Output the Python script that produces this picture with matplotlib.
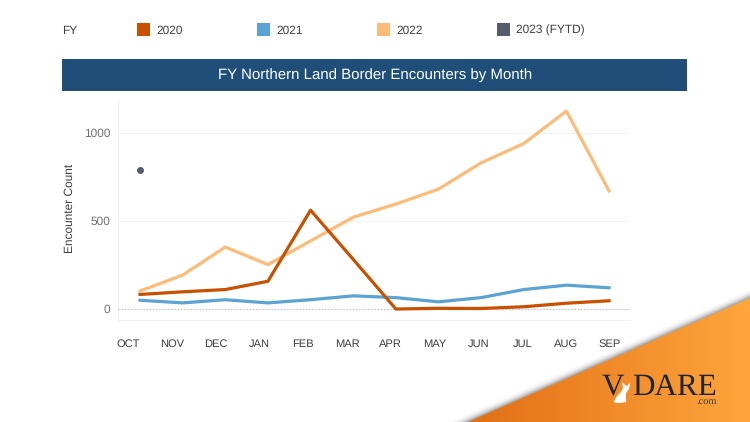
import numpy as np
import matplotlib
matplotlib.use("Agg")
import matplotlib.pyplot as plt
from matplotlib.patches import Polygon, Rectangle
from matplotlib.colors import LinearSegmentedColormap

plt.rcParams['font.family'] = ['Liberation Sans', 'DejaVu Sans']
plt.rcParams['text.hinting'] = 'none'

months = ["OCT", "NOV", "DEC", "JAN", "FEB", "MAR", "APR", "MAY", "JUN", "JUL", "AUG", "SEP"]
fy2020 = [80, 95, 108, 155, 560, 280, -3, 1, 0, 10, 30, 44]
fy2021 = [47, 32, 50, 32, 50, 72, 62, 38, 62, 108, 133, 118]
fy2022 = [100, 190, 350, 250, 385, 520, 595, 680, 830, 940, 1125, 670]
fy2023 = [790]
legend_names = ["2020", "2021", "2022", "2023 (FYTD)"]
legend_colors = ["#c95000", "#5ba3d3", "#fdbb78", "#555c6c"]
yticks = [0, 500, 1000]

W, H = 750, 422
fig = plt.figure(figsize=(W / 100, H / 100), dpi=100)

# main chart, placed in pixels
left, right, top, bottom = 118, 630, 100, 320
ax = fig.add_axes([left / W, 1 - bottom / H, (right - left) / W, (bottom - top) / H])
x = np.arange(12)
ax.set_xlim((left - 140) / 42.64, (right - 140) / 42.64)
ax.set_ylim((308.5 - bottom) / 0.1755, (308.5 - top) / 0.1755)

ax.plot(x, fy2022, color=legend_colors[2], lw=2.3, zorder=3)
ax.plot(x, fy2021, color=legend_colors[1], lw=2.3, zorder=4)
ax.plot(x, fy2020, color=legend_colors[0], lw=2.3, zorder=5)
ax.plot([0], fy2023, "o", color=legend_colors[3], ms=4, zorder=6)

ax.set_yticks(yticks)
ax.set_yticklabels([str(v) for v in yticks], fontsize=8.6, color="#6e6f73")
ax.grid(axis="y", color="#f2f2f2", lw=0.8)
ax.axhline(0, color="#c4c4c4", lw=0.9, ls=(0, (1, 1.5)), zorder=1)
ax.set_axisbelow(True)
# month labels sit slightly off the points in the original
ax.set_xticks(np.linspace(-0.28, 11.02, 12))
ax.set_xticklabels(months, fontsize=8, color="#404040", va="baseline")
ax.tick_params(axis="both", length=0)
ax.tick_params(axis="x", pad=19.5)
ax.tick_params(axis="y", pad=5.5)
for s in ["top", "right"]:
    ax.spines[s].set_visible(False)
for s in ["left", "bottom"]:
    ax.spines[s].set_color("#f0f0f0")

# overlay in pixel coordinates for banner, legend and corner
ov = fig.add_axes([0, 0, 1, 1], zorder=10)
ov.set_xlim(0, W)
ov.set_ylim(H, 0)
ov.axis("off")
ov.patch.set_alpha(0)

ov.text(70, 208, "Encounter Count", fontsize=8.6, color="#404040", rotation=90,
        ha="center", va="center")

ov.add_patch(Rectangle((62, 59), 625, 32, color="#1f4e79", lw=0))
ov.text(375, 75.5, "FY Northern Land Border Encounters by Month", color="white",
        fontsize=10.8, ha="center", va="center")

ov.text(62, 33.5, "FY", fontsize=8.6, color="#404040", va="baseline")
for px, name, c in zip([137, 257, 377, 497], legend_names, legend_colors):
    ov.add_patch(Rectangle((px, 22.5), 13, 13, color=c, lw=0))
    ov.text(px + 19, 33.5, name, fontsize=8.6, color="#404040", va="baseline")

# orange corner with soft shadow
corner = [(468, 422), (750, 298), (750, 422)]
for off, a in zip([8, 6.5, 5, 4, 3, 2, 1], [0.03, 0.04, 0.05, 0.07, 0.09, 0.12, 0.15]):
    ov.add_patch(Polygon([(468 - off * 2.2, 422), (750, 298 - off), (750, 422)],
                         color="#404040", alpha=a, lw=0))
cmap = LinearSegmentedColormap.from_list("corner", ["#e06f16", "#f08a28", "#ffa63c"])
grad = np.linspace(0, 1, 300)[None, :]
im = ov.imshow(grad, extent=(468, 750, 422, 298), cmap=cmap, aspect="auto", zorder=3)
clip = Polygon(corner, transform=ov.transData, fc="none", ec="none")
ov.add_patch(clip)
im.set_clip_path(clip)
ov.set_xlim(0, W)
ov.set_ylim(H, 0)

ov.text(602, 395, "V", family="Liberation Serif", fontsize=22.4, color="#1d2530",
        va="baseline", zorder=4)
ov.text(632, 395, "DARE", family="Liberation Serif", fontsize=22.4, color="#1d2530",
        va="baseline", zorder=4)
ov.text(717, 404, ".com", family="Liberation Serif", fontsize=7.5, color="#3a3a3a",
        ha="right", va="baseline", zorder=4)
# small white dog in the logo
ov.add_patch(Polygon([(614, 401), (617, 396), (621, 392), (623, 388), (622, 382), (625, 385),
                      (627, 386), (630, 383), (629, 389), (626, 393), (626, 402), (621, 403),
                      (615, 403)], color="white", lw=0, zorder=5))

fig.savefig("out.png", dpi=100)
